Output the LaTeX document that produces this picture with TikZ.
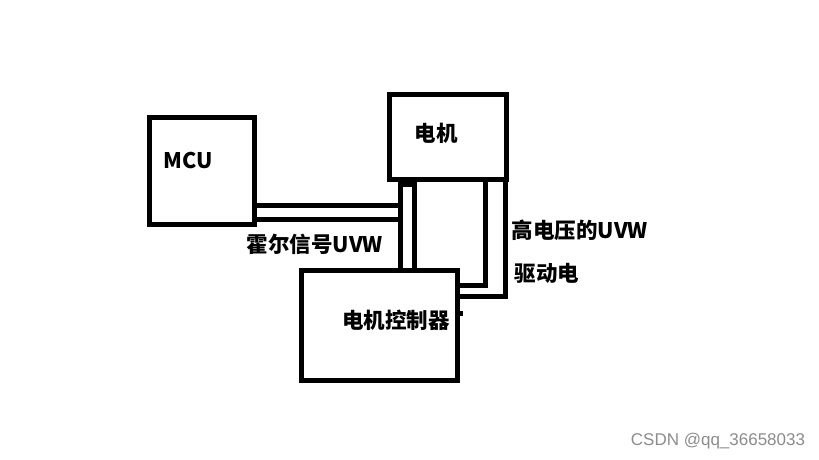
\documentclass[tikz,border=0pt]{standalone}
\usepackage{fontspec}
\setmainfont{Noto Sans CJK SC}
\newfontfamily\wmfont{Liberation Sans}
\usetikzlibrary{positioning}

\begin{document}
\begin{tikzpicture}[x=1pt, y=-1pt,
    box/.style={draw, line width=5pt},
    wire/.style={line width=5pt},
    lbl/.style={font=\bfseries\fontsize{21.5}{25}\selectfont, inner sep=0pt}]
  \useasboundingbox (0,0) rectangle (819,460);

  % boxes
  \node[box, minimum width=105pt, minimum height=107pt] (mcu) at (202,171) {};
  \node[box, minimum width=117pt, minimum height=84.5pt] (motor) at (448,136.75) {};
  \node[box, minimum width=156pt, minimum height=110pt] (ctrl) at (379.5,325.5) {};

  \node[lbl] (mcutxt) at (188,161) {MCU};
  \node[lbl] (motortxt) at (436,133) {电机};
  \node[lbl] (ctrltxt) at (396,320) {电机控制器};

  % hall signal to the left tube
  \coordinate (hall) at (397.5,212.5);
  \draw[wire, double, double distance=9pt] (mcu.east |- hall) -- (hall);
  \node[lbl] (halltxt) at (315,244) {霍尔信号UVW};

  % tube motor -> controller
  \coordinate (lt1) at (400,0);
  \coordinate (lt2) at (414.5,0);
  \draw[wire] (ctrl.north -| lt1) -- ([yshift=-2.5pt]motor.south -| lt1)
    -- ([yshift=-2.5pt]motor.south -| lt2) -- (ctrl.north -| lt2);

  % drive lines
  \coordinate (ri) at (485.5,285.5);
  \coordinate (ro) at (505,296.5);
  \draw[wire] (motor.south -| ri) |- (ctrl.east |- ri);
  \draw[wire] (motor.south -| ro) |- (ctrl.east |- ro);
  \coordinate (stub) at (0,313);
  \draw[wire] (ctrl.east |- stub) -- ++(3,0);

  \node[lbl] (hvtxt) at (580,230) {高电压的UVW};
  \node[lbl] (drvtxt) at (547,273) {驱动电};

  \node[font=\wmfont\fontsize{17}{20}\selectfont, text=black!45, inner sep=0pt] (wm) at (718,441) {CSDN @qq\_36658033};
\end{tikzpicture}
\end{document}
